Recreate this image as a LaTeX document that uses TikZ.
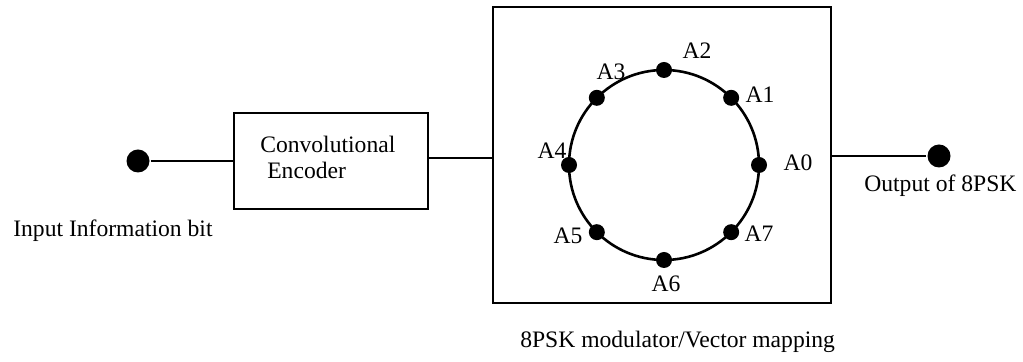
\documentclass[tikz,border=0pt]{standalone}
\usepackage{fontspec}
\setmainfont{Liberation Serif}
\begin{document}
\begin{tikzpicture}[x=0.5pt,y=-0.5pt,
  line width=1.3pt,
  every node/.style={font=\fontsize{11.8pt}{14pt}\selectfont},
  bigdot/.style={circle,fill=black,draw=none,inner sep=0pt,minimum size=11.5pt},
  sigdot/.style={circle,fill=black,draw=none,inner sep=0pt,minimum size=8pt},
  blockbox/.style={draw,inner sep=0pt},
  txt/.style={inner sep=0pt,anchor=base west},
  lbl/.style={inner sep=0pt}]
\useasboundingbox (0,0) rectangle (1023,362);

% terminals
\node[bigdot] (in) at (138,161) {};
\node[bigdot] (out) at (939,156) {};

% blocks
\node[blockbox,minimum width=97pt,minimum height=48pt] (enc) at (331,161) {};
\node[blockbox,minimum width=169pt,minimum height=148pt] (mod) at (662,155) {};

\node[txt] (encA) at (259,153) {Convolutional};
\node[txt] (encB) at (266,179) {Encoder};

% connectors
\draw (in) -- (in -| enc.west);
\draw (enc.east |- 0,158) -- (mod.west |- 0,158);
\draw (mod.east |- out) -- (out);

% 8PSK constellation
\coordinate (c) at (664,165);
\draw (c) circle [radius=47.5pt];
\foreach \k in {0,...,7}{
  \path (c) ++(\k*45:47.5pt) node[sigdot] (a\k) {};
}
\node[lbl] (l0) at (798,163) {A0};
\node[lbl] (l1) at (760,95) {A1};
\node[lbl] (l2) at (697,51) {A2};
\node[lbl] (l3) at (611,72) {A3};
\node[lbl] (l4) at (552,151) {A4};
\node[lbl] (l5) at (568,236) {A5};
\node[lbl] (l6) at (666,284) {A6};
\node[lbl] (l7) at (759,234) {A7};

% captions
\node[txt] (inlbl) at (12,237) {Input Information bit};
\node[txt] (outlbl) at (863,192) {Output of 8PSK};
\node[txt] (modlbl) at (519,348) {8PSK modulator/Vector mapping};
\end{tikzpicture}
\end{document}
